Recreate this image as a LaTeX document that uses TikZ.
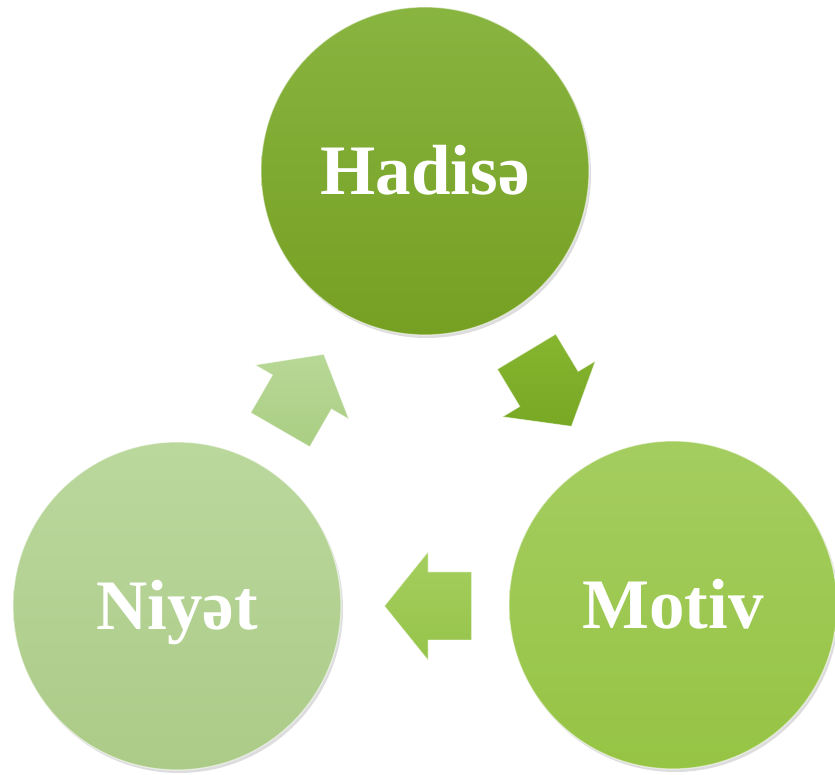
\documentclass[tikz,border=0pt]{standalone}
\usepackage{fontspec}
\setmainfont{Liberation Serif}
\usetikzlibrary{shadows}
\definecolor{hTop}{RGB}{136,180,64}
\definecolor{hBot}{RGB}{118,160,34}
\definecolor{mTop}{RGB}{164,205,96}
\definecolor{mBot}{RGB}{150,196,68}
\definecolor{nTop}{RGB}{186,216,156}
\definecolor{nBot}{RGB}{172,203,136}
\definecolor{aR}{RGB}{134,182,48}
\definecolor{aRd}{RGB}{120,168,36}
\definecolor{aB}{RGB}{164,206,94}
\definecolor{aBd}{RGB}{150,196,74}
\definecolor{aL}{RGB}{184,216,150}
\definecolor{aLd}{RGB}{170,206,132}
\tikzset{
  ball/.style={circle, minimum size=328pt, inner sep=0pt, text=white,
    font=\bfseries\fontsize{71}{71}\selectfont, text height=47pt, text depth=0pt,
    draw=white, draw opacity=0.55, line width=1.2pt,
    drop shadow={shadow xshift=2pt, shadow yshift=-3pt, opacity=0.22, fill=black!60}},
  blockarrow/.pic={
    \path[pic actions] (-43.5,-34) -- (0,-34) -- (0,-54) -- (43.5,0) -- (0,54) -- (0,34) -- (-43.5,34) -- cycle;
  },
  arrowfill/.style={draw=white, draw opacity=0.5, line width=0.8pt, line join=miter,
    drop shadow={shadow xshift=2pt, shadow yshift=-3pt, opacity=0.2, fill=black!60}}
}
\begin{document}
\begin{tikzpicture}[x=1pt,y=1pt]
\useasboundingbox (0,0) rectangle (835,775);
\node[ball, top color=hTop, bottom color=hBot] (hadise) at (425,604) {Hadisə};
\node[ball, top color=mTop, bottom color=mBot] (motiv) at (673,170) {Motiv};
\node[ball, top color=nTop, bottom color=nBot] (niyet) at (177,169) {Niyət};
% arrows
\pic[arrowfill, top color=aR, bottom color=aRd, rotate=-59] (arrR) at (549,386) {blockarrow};
\pic[arrowfill, top color=aB, bottom color=aBd, rotate=180] (arrB) at (428,169) {blockarrow};
\pic[arrowfill, top color=aL, bottom color=aLd, rotate=60] (arrL) at (302,383) {blockarrow};
\end{tikzpicture}
\end{document}
